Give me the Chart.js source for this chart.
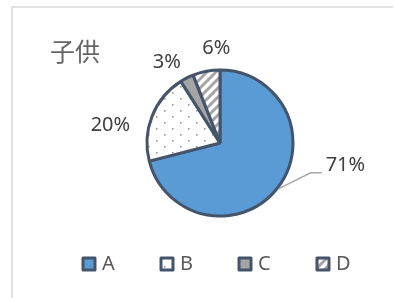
<!DOCTYPE html>
<html>
<head>
<meta charset="utf-8">
<script src="https://cdn.jsdelivr.net/npm/chart.js@4.4.0/dist/chart.umd.min.js"></script>
<style>
    html, body { margin: 0; padding: 0; background: #fff; }
    canvas { display: block; }
</style>
</head>
<body>
<canvas id="kidsPie" width="394" height="298"></canvas>
<script>
const chartTitle = "子供";
const categories = ["A", "B", "C", "D"];
const shares = [71, 20, 3, 6];

const EDGE = "#44546A";
const TEXT = "#595959";
const LABEL = "#404040";

function dotPattern() {
    const c = document.createElement("canvas");
    c.width = 16;
    c.height = 12;
    const g = c.getContext("2d");
    g.fillStyle = "#fff";
    g.fillRect(0, 0, 16, 12);
    g.fillStyle = "#9a9a9a";
    g.fillRect(4, 2, 1.6, 1.6);
    g.fillRect(12, 8, 1.6, 1.6);
    return g.createPattern(c, "repeat");
}

function stripePattern() {
    const c = document.createElement("canvas");
    c.width = 9;
    c.height = 9;
    const g = c.getContext("2d");
    g.fillStyle = "#fff";
    g.fillRect(0, 0, 9, 9);
    g.strokeStyle = "#a5a5a5";
    g.lineWidth = 3;
    g.beginPath();
    g.moveTo(-2, 11); g.lineTo(11, -2);
    g.moveTo(-7, 7); g.lineTo(7, -7);
    g.moveTo(2, 16); g.lineTo(16, 2);
    g.stroke();
    return g.createPattern(c, "repeat");
}

const fills = ["#5B9BD5", dotPattern(), "#A5A5A5", stripePattern()];

// where each percentage sits, relative to the slice's outer edge point
const labelPlacement = [
    { dx: 48, dy: -22, align: "left", leader: true },
    { dx: -22, dy: 9, align: "right" },
    { dx: -20, dy: -16, align: "center" },
    { dx: 10, dy: -23, align: "center" }
];

const decorPlugin = {
    id: "decor",
    beforeDraw(chart) {
        const ctx = chart.ctx;
        ctx.save();
        ctx.strokeStyle = "#D9D9D9";
        ctx.lineWidth = 1.5;
        ctx.beginPath();
        ctx.moveTo(12, chart.height);
        ctx.lineTo(12, 7);
        ctx.lineTo(393, 7);
        ctx.stroke();

        ctx.fillStyle = "#666";
        ctx.font = '25px "Noto Sans CJK JP"';
        ctx.textBaseline = "middle";
        ctx.textAlign = "left";
        ctx.fillText(chartTitle, 50, 51);
        ctx.restore();
    },
    afterDraw(chart) {
        const ctx = chart.ctx;
        const arcs = chart.getDatasetMeta(0).data;
        const total = shares.reduce((a, b) => a + b, 0);
        ctx.save();
        ctx.font = '20px "Noto Sans"';
        ctx.fillStyle = LABEL;
        ctx.textBaseline = "middle";
        arcs.forEach((arc, i) => {
            const mid = (arc.startAngle + arc.endAngle) / 2;
            const ex = arc.x + Math.cos(mid) * arc.outerRadius;
            const ey = arc.y + Math.sin(mid) * arc.outerRadius;
            const p = labelPlacement[i];
            const tx = ex + p.dx;
            const ty = ey + p.dy;
            const text = Math.round(shares[i] / total * 100) + "%";
            if (p.leader) {
                ctx.strokeStyle = "#A6A6A6";
                ctx.lineWidth = 1.5;
                ctx.beginPath();
                ctx.moveTo(ex + Math.cos(mid) * 1.5, ey + Math.sin(mid) * 1.5);
                ctx.lineTo(tx - 15, ty + 7);
                ctx.lineTo(tx - 4, ty + 7);
                ctx.stroke();
            }
            ctx.textAlign = p.align;
            ctx.fillText(text, tx, ty);
        });

        // legend row
        const step = 78;
        const box = 12;
        const x0 = 83;
        const y0 = 258;
        ctx.font = '20px "Noto Sans"';
        ctx.textAlign = "left";
        categories.forEach((name, i) => {
            const bx = x0 + i * step;
            ctx.fillStyle = fills[i];
            ctx.fillRect(bx, y0, box, box);
            ctx.strokeStyle = EDGE;
            ctx.lineWidth = 3;
            ctx.lineJoin = "round";
            ctx.strokeRect(bx, y0, box, box);
            ctx.fillStyle = TEXT;
            ctx.fillText(name, bx + 19, y0 + box / 2);
        });
        ctx.restore();
    }
};

new Chart(document.getElementById("kidsPie"), {
    type: "pie",
    data: {
        labels: categories,
        datasets: [{
            data: shares,
            backgroundColor: fills,
            borderColor: EDGE,
            borderWidth: 3
        }]
    },
    options: {
        responsive: false,
        animation: false,
        layout: {
            padding: { top: 68.5, bottom: 80.5, left: 145.5, right: 99.5 }
        },
        plugins: {
            legend: { display: false },
            tooltip: { enabled: false }
        }
    },
    plugins: [decorPlugin]
});
</script>
</body>
</html>
